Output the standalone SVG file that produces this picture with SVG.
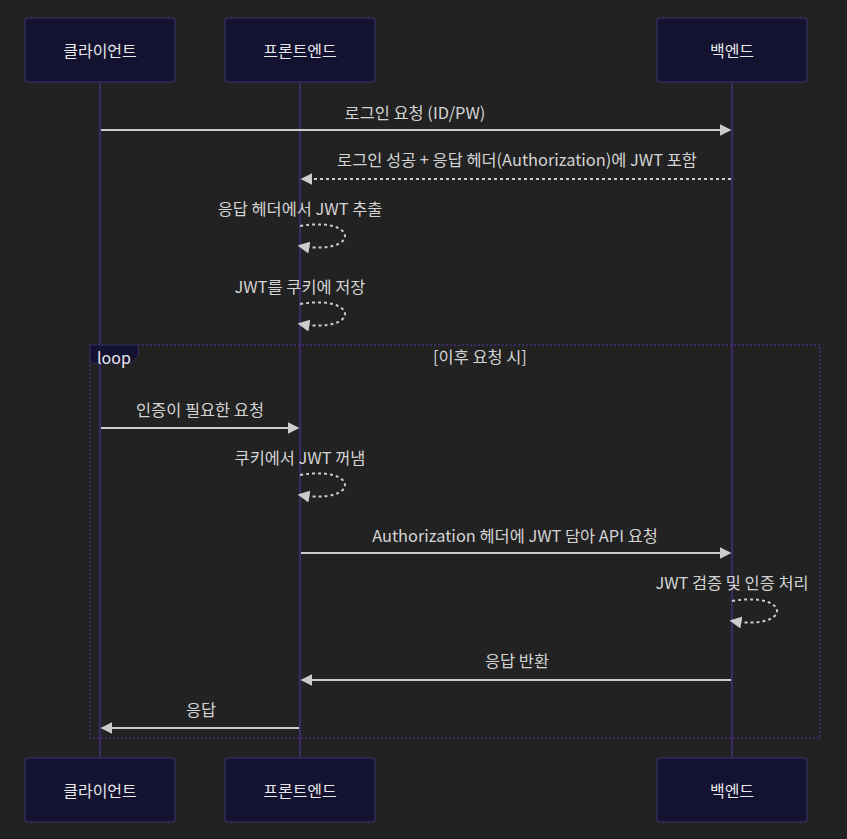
<svg xmlns="http://www.w3.org/2000/svg" width="847" height="839" viewBox="0 0 847 839">
<style>
.bg{fill:#222222}
.actor rect{fill:#131230;stroke:#33285a;stroke-width:1.5}
.actor text{fill:#e8e8e8;font-family:"Noto Sans CJK KR","Noto Sans",sans-serif;font-size:16px;text-anchor:middle;dominant-baseline:central}
.life{stroke:#3b2a66;stroke-width:2}
.msg{stroke:#cccccc;stroke-width:2;fill:none}
.dash{stroke-dasharray:3,3}
.mt{fill:#d4d4d4;font-family:"Noto Sans CJK KR","Noto Sans",sans-serif;font-size:16.4px;text-anchor:middle}
.loopbox{fill:none;stroke:#3b2a66;stroke-width:2;stroke-dasharray:2,2}
.looplab{fill:#131230;stroke:#33285a;stroke-width:1}
</style>
<defs>
<marker id="ah" viewBox="0 0 10 10" refX="7.9" refY="5" markerUnits="userSpaceOnUse" markerWidth="12" markerHeight="12" orient="auto">
<path d="M0,0 L10,5 L0,10 z" fill="#cccccc"/>
</marker>
</defs>
<rect class="bg" x="0" y="0" width="847" height="839"/>
<g id="lifelines">
<line class="life" x1="100" y1="83" x2="100" y2="757"/>
<line class="life" x1="300" y1="83" x2="300" y2="757"/>
<line class="life" x1="732" y1="83" x2="732" y2="757"/>
</g>
<g id="loop">
<rect class="loopbox" x="90" y="345" width="730" height="393"/>
<polygon class="looplab" points="90,345 138,345 138,356 131,363 90,363"/>
<text x="114" y="357" fill="#e8e8e8" font-family="'Noto Sans CJK KR','Noto Sans',sans-serif" font-size="16" text-anchor="middle" dominant-baseline="central">loop</text>
<text class="mt" x="480" y="363">[이후 요청 시]</text>
</g>
<g id="actor-client-top" class="actor"><rect x="25" y="18" width="150" height="64" rx="3"/><text x="100" y="50">클라이언트</text></g>
<g id="actor-front-top" class="actor"><rect x="225" y="18" width="150" height="64" rx="3"/><text x="300" y="50">프론트엔드</text></g>
<g id="actor-back-top" class="actor"><rect x="657" y="18" width="150" height="64" rx="3"/><text x="732" y="50">백엔드</text></g>
<g id="actor-client-bottom" class="actor"><rect x="25" y="758" width="150" height="64" rx="3"/><text x="100" y="790">클라이언트</text></g>
<g id="actor-front-bottom" class="actor"><rect x="225" y="758" width="150" height="64" rx="3"/><text x="300" y="790">프론트엔드</text></g>
<g id="actor-back-bottom" class="actor"><rect x="657" y="758" width="150" height="64" rx="3"/><text x="732" y="790">백엔드</text></g>
<g id="connectors">
<text class="mt" x="415" y="119">로그인 요청 (ID/PW)</text>
<line class="msg" x1="101" y1="130" x2="729" y2="130" marker-end="url(#ah)"/>
<text class="mt" x="517" y="166">로그인 성공 + 응답 헤더(Authorization)에 JWT 포함</text>
<line class="msg dash" x1="731" y1="179" x2="303" y2="179" marker-end="url(#ah)"/>
<text class="mt" x="300" y="215">응답 헤더에서 JWT 추출</text>
<path class="msg dash" d="M300,226 C360,216 360,256 300,246" marker-end="url(#ah)"/>
<text class="mt" x="300" y="293">JWT를 쿠키에 저장</text>
<path class="msg dash" d="M300,304 C360,294 360,334 300,324" marker-end="url(#ah)"/>
<text class="mt" x="200" y="416">인증이 필요한 요청</text>
<line class="msg" x1="101" y1="428" x2="297" y2="428" marker-end="url(#ah)"/>
<text class="mt" x="300" y="464">쿠키에서 JWT 꺼냄</text>
<path class="msg dash" d="M300,475 C360,465 360,505 300,495" marker-end="url(#ah)"/>
<text class="mt" x="515" y="542">Authorization 헤더에 JWT 담아 API 요청</text>
<line class="msg" x1="301" y1="553" x2="729" y2="553" marker-end="url(#ah)"/>
<text class="mt" x="732" y="589">JWT 검증 및 인증 처리</text>
<path class="msg dash" d="M732,601 C792,591 792,631 732,621" marker-end="url(#ah)"/>
<text class="mt" x="517" y="667">응답 반환</text>
<line class="msg" x1="731" y1="680" x2="303" y2="680" marker-end="url(#ah)"/>
<text class="mt" x="201" y="716">응답</text>
<line class="msg" x1="299" y1="728" x2="103" y2="728" marker-end="url(#ah)"/>
</g>
</svg>
